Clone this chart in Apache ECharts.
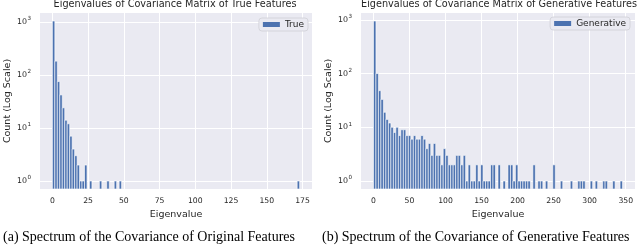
<!DOCTYPE html>
<html><head><meta charset="utf-8">
<script src="https://cdn.jsdelivr.net/npm/echarts@6/dist/echarts.min.js"></script>
<style>html,body{margin:0;padding:0;background:#fff}#c{width:640px;height:250px}</style>
</head><body><div id="c"></div>
<script>
// ---- data ----
const seriesNames = ['True', 'Generative'];
const chartTitles = ['Eigenvalues of Covariance Matrix of True Features',
                     'Eigenvalues of Covariance Matrix of Generative Features'];
const captions = ['(a) Spectrum of the Covariance of Original Features',
                  '(b) Spectrum of the Covariance of Generative Features'];
const xLabel = 'Eigenvalue';
const yLabel = 'Count (Log Scale)';

// histogram ranges (min/max eigenvalue) and 100 bin counts each
const trueRange = [0, 173];
const trueCounts = [
  1040,182,75,42,24,14,12,7,4,3,
  2,1,1,2,0,1,0,0,0,1,
  0,0,1,0,0,1,0,1,0,0,
  0,0,0,0,0,0,0,0,0,0,
  0,0,0,0,0,0,0,0,0,0,
  0,0,0,0,0,0,0,0,0,0,
  0,0,0,0,0,0,0,0,0,0,
  0,0,0,0,0,0,0,0,0,0,
  0,0,0,0,0,0,0,0,0,0,
  0,0,0,0,0,0,0,0,0,1
];
const genRange = [0, 345.6];
const genCounts = [
  950,100,48,33,19,14,12,10,8,10,
  7,9,9,7,7,6,7,6,6,7,
  6,4,5,3,5,3,3,2,4,3,
  2,2,2,3,3,2,3,1,2,1,
  1,2,1,2,1,1,1,2,2,0,
  2,0,1,0,2,2,1,2,1,1,
  1,1,1,0,2,0,1,1,0,1,
  0,0,2,0,0,1,0,0,0,1,
  0,0,1,1,1,0,0,1,0,1,
  0,0,1,1,0,0,1,0,0,1
];
const xTicksTrue = [0, 25, 50, 75, 100, 125, 150, 175];
const xTicksGen = [0, 50, 100, 150, 200, 250, 300, 350];
const yTicks = [1, 10, 100, 1000];

// ---- helpers ----
const BLUE = '#4C72B0', BG = '#EAEAF2', TXT = '#262626';
function toBins(range, counts) {
  const w = (range[1] - range[0]) / counts.length;
  const out = [];
  counts.forEach((c, i) => { if (c > 0) out.push([range[0] + i * w, range[0] + (i + 1) * w, c]); });
  return out;
}
function xExtent(range) { const p = 0.05 * (range[1] - range[0]); return [range[0] - p, range[1] + p]; }
function yExtent(counts) {
  const hi = Math.log10(Math.max(...counts)), lo = 0, p = 0.05 * (hi - lo);
  return [Math.pow(10, lo - p), Math.pow(10, hi + p)];
}
function powLabel(v) {
  if (!yTicks.some(t => Math.abs(t - v) / t < 1e-6)) return '';
  const e = Math.round(Math.log10(v));
  return '{b|10}{s|' + e + '}';
}
function renderHist(params, api) {
  const a = api.coord([api.value(0), api.value(2)]);
  const b = api.coord([api.value(1), api.value(2)]);
  const cs = params.coordSys;
  const bottom = cs.y + cs.height;
  return { type: 'rect',
    shape: { x: a[0], y: a[1], width: b[0] - a[0], height: bottom - a[1] },
    style: { fill: BLUE, stroke: '#ffffff', lineWidth: 0.6 } };
}

const grids = [
  { left: 40, top: 13, width: 272, height: 176 },
  { left: 361, top: 13, width: 274, height: 176 }
];
const ranges = [trueRange, genRange];
const countsAll = [trueCounts, genCounts];
const xTicksAll = [xTicksTrue, xTicksGen];

const option = {
  animation: false,
  color: [BLUE],
  grid: grids.map(g => Object.assign({ show: true, backgroundColor: BG, borderWidth: 0, outerBoundsMode: 'none', containLabel: false }, g)),
  xAxis: [0, 1].map(k => {
    const ext = xExtent(ranges[k]);
    const ticks = xTicksAll[k];
    return {
      gridIndex: k, type: 'value', min: ext[0], max: ext[1],
      minInterval: ticks[1] - ticks[0], maxInterval: ticks[1] - ticks[0],
      axisLine: { show: false }, axisTick: { show: false },
      splitLine: { show: true, showMinLine: false, showMaxLine: false, lineStyle: { color: '#ffffff', width: 1 } },
      axisLabel: { fontFamily: 'DejaVu Sans', fontSize: 7.7, color: TXT, margin: 8,
        showMinLabel: false, showMaxLabel: false,
        formatter: v => ticks.some(t => Math.abs(t - v) < 1e-6) ? String(Math.round(v)) : '' },
      name: xLabel, nameLocation: 'middle', nameGap: 18,
      nameTextStyle: { fontFamily: 'DejaVu Sans', fontSize: 9.5, color: TXT }
    };
  }),
  yAxis: [0, 1].map(k => {
    const ext = yExtent(countsAll[k]);
    return {
      gridIndex: k, type: 'log', logBase: 10, min: ext[0], max: ext[1],
      axisLine: { show: false }, axisTick: { show: false },
      minorTick: { show: false }, minorSplitLine: { show: false },
      splitLine: { show: true, showMinLine: false, showMaxLine: false, lineStyle: { color: '#ffffff', width: 1 } },
      axisLabel: { color: TXT, margin: 9,
        showMinLabel: false, showMaxLabel: false, formatter: powLabel,
        rich: {
          b: { fontFamily: 'DejaVu Sans', fontSize: 7.9, color: TXT, lineHeight: 12, verticalAlign: 'middle' },
          s: { fontFamily: 'DejaVu Sans', fontSize: 5.6, color: TXT, lineHeight: 6, verticalAlign: 'top', padding: [0, 0, 0, 0.5] }
        } },
      name: yLabel, nameLocation: 'middle', nameGap: 27,
      nameTextStyle: { fontFamily: 'DejaVu Sans', fontSize: 9.5, color: TXT }
    };
  }),
  legend: [
    { data: [{ name: seriesNames[0], icon: 'rect' }], right: 332, top: 18 },
    { data: [{ name: seriesNames[1], icon: 'rect' }], right: 10, top: 17 }
  ].map(l => Object.assign({
    orient: 'vertical', itemWidth: 17, itemHeight: 5, padding: [2, 4, 2, 4],
    backgroundColor: BG, borderColor: '#cfcfd6', borderWidth: 0.8, borderRadius: 3,
    selectedMode: false,
    textStyle: { fontFamily: 'DejaVu Sans', fontSize: 9, color: TXT }
  }, l)),
  series: [0, 1].map(k => ({
    type: 'custom', name: seriesNames[k], xAxisIndex: k, yAxisIndex: k,
    itemStyle: { color: BLUE },
    renderItem: renderHist,
    encode: { x: [0, 1], y: 2 },
    data: toBins(ranges[k], countsAll[k])
  })),
  graphic: [
    { type: 'text', x: 175, y: 4, style: { text: chartTitles[0], font: '9.7px "DejaVu Sans"', fill: TXT, align: 'center', verticalAlign: 'middle' } },
    { type: 'text', x: 499, y: 4, style: { text: chartTitles[1], font: '9.7px "DejaVu Sans"', fill: TXT, align: 'center', verticalAlign: 'middle' } },
    { type: 'text', x: 3, y: 237, style: { text: captions[0], font: '14px "Liberation Serif"', fill: '#000', align: 'left', verticalAlign: 'middle' } },
    { type: 'text', x: 322, y: 237, style: { text: captions[1], font: '14px "Liberation Serif"', fill: '#000', align: 'left', verticalAlign: 'middle' } }
  ]
};
const chart = echarts.init(document.getElementById('c'), null, { renderer: 'canvas' });
chart.setOption(option);
</script></body></html>
